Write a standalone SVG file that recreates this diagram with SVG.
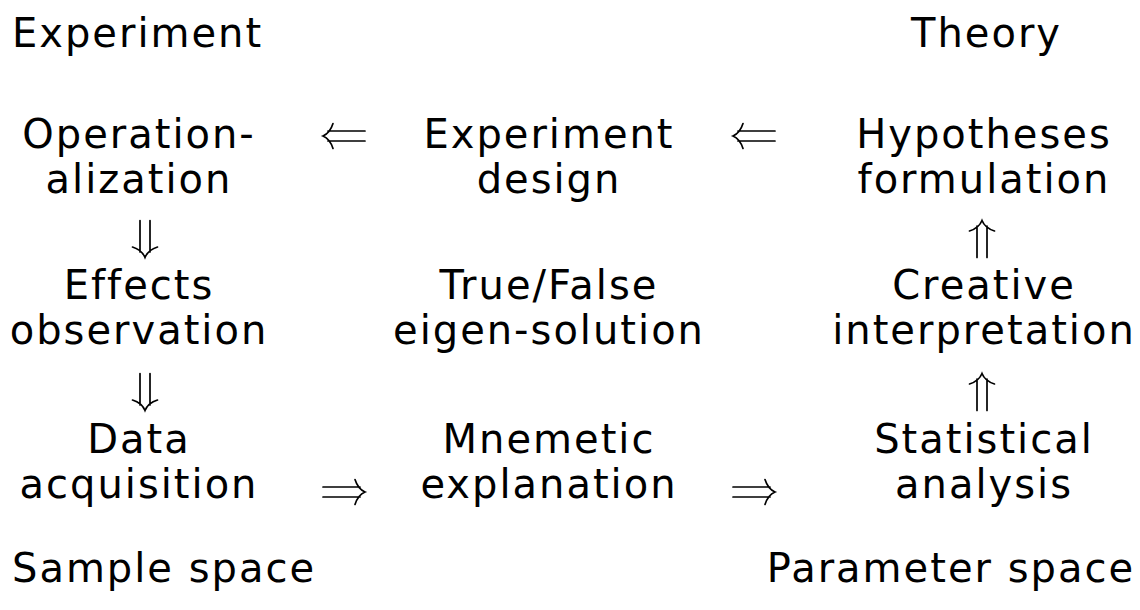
<svg xmlns="http://www.w3.org/2000/svg" width="1140" height="610" viewBox="0 0 1140 610">
<style>
  text { font-family: "DejaVu Sans", "Liberation Sans", sans-serif; font-size: 40px; letter-spacing: 2px; fill: #000; }
  .c { text-anchor: middle; }
  .arr { fill: none; stroke: #000; stroke-width: 1.7; stroke-linecap: round; }
</style>
<defs>
  <g id="dblR">
    <path class="arr" d="M -21 -5 H 16 M -21 5 H 16 M 11 -12.5 Q 14 -3 21 0 Q 14 3 11 12.5"/>
  </g>
  <g id="dblD">
    <path class="arr" d="M -5 -18.5 V 13 M 5 -18.5 V 13 M -12.5 8 Q -3 11 0 18.5 Q 3 11 12.5 8"/>
  </g>
</defs>
<rect width="1140" height="610" fill="#fff"/>

<g id="label-experiment"><text x="12" y="47">Experiment</text></g>
<g id="label-theory"><text x="1062" y="47" text-anchor="end">Theory</text></g>
<g id="label-sample-space"><text x="12" y="582">Sample space</text></g>
<g id="label-parameter-space"><text x="1135" y="582" text-anchor="end">Parameter space</text></g>

<g id="node-operationalization"><text class="c" x="139" y="148">Operation-</text><text class="c" x="139" y="193">alization</text></g>
<g id="node-experiment-design"><text class="c" x="549" y="148">Experiment</text><text class="c" x="549" y="193">design</text></g>
<g id="node-hypotheses"><text class="c" x="984" y="148">Hypotheses</text><text class="c" x="984" y="193">formulation</text></g>

<g id="node-effects"><text class="c" x="139" y="299">Effects</text><text class="c" x="139" y="344">observation</text></g>
<g id="node-truefalse"><text class="c" x="549" y="299">True/False</text><text class="c" x="549" y="344">eigen-solution</text></g>
<g id="node-creative"><text class="c" x="984" y="299">Creative</text><text class="c" x="984" y="344">interpretation</text></g>

<g id="node-data"><text class="c" x="139" y="453">Data</text><text class="c" x="139" y="498">acquisition</text></g>
<g id="node-mnemetic"><text class="c" x="549" y="453">Mnemetic</text><text class="c" x="549" y="498">explanation</text></g>
<g id="node-statistical"><text class="c" x="984" y="453">Statistical</text><text class="c" x="984" y="498">analysis</text></g>

<g id="connectors">
  <use href="#dblR" transform="translate(344,136) rotate(180)"/>
  <use href="#dblR" transform="translate(754,136) rotate(180)"/>
  <use href="#dblR" transform="translate(344,492)"/>
  <use href="#dblR" transform="translate(754,492)"/>
  <use href="#dblD" transform="translate(145,239)"/>
  <use href="#dblD" transform="translate(145,392)"/>
  <use href="#dblD" transform="translate(982,239) rotate(180)"/>
  <use href="#dblD" transform="translate(982,392) rotate(180)"/>
</g>
</svg>
